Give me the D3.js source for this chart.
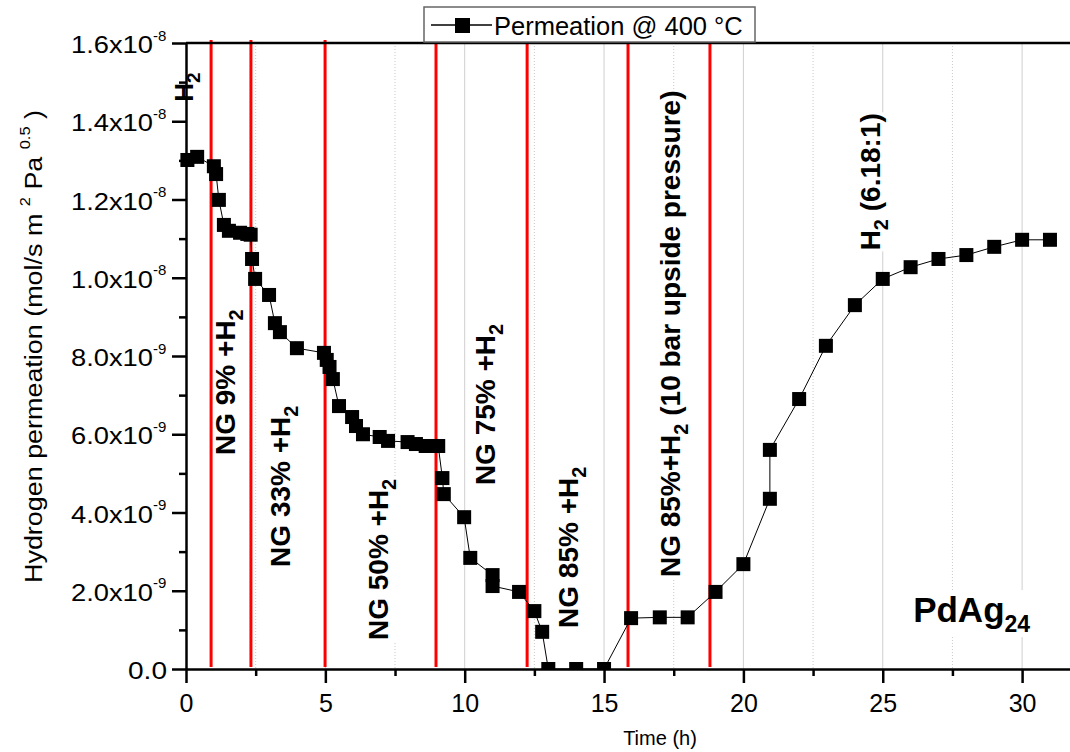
<!DOCTYPE html>
<html>
<head>
<meta charset="utf-8">
<script src="https://cdn.jsdelivr.net/npm/d3@7/dist/d3.min.js"></script>
<style>
  body { margin: 0; background: #fff; }
  svg { display: block; font-family: "Liberation Sans", Arial, sans-serif; }
</style>
</head>
<body>
<div id="chart"></div>
<script>
(function() {
    'use strict';

    // time on stream (h)
    var timeH = [
        0.05, 0.4, 1.0, 1.08, 1.18, 1.36, 1.54, 1.94, 2.2, 2.32,
        2.37, 2.48, 2.98, 3.19, 3.37, 3.98, 4.95, 5.05, 5.15, 5.27,
        5.49, 5.96, 6.1, 6.35, 6.95, 7.25, 7.95, 8.25, 8.6, 9.05,
        9.2, 9.25, 9.98, 10.2, 11.0, 11.0, 11.95, 12.5, 12.78, 13.0,
        14.0, 15.0, 15.97, 17.0, 18.0, 19.0, 20.0, 20.95, 20.95, 22.0,
        22.96, 24.0, 25.0, 26.0, 27.0, 28.0, 29.0, 30.0, 31.0
    ];

    // hydrogen permeation (mol/s m2 Pa0.5)
    var permeation = [
        1.301e-8, 1.309e-8, 1.285e-8, 1.265e-8, 1.199e-8, 1.135e-8, 1.12e-8, 1.115e-8, 1.112e-8, 1.11e-8,
        1.048e-8, 9.97e-9, 9.56e-9, 8.84e-9, 8.61e-9, 8.2e-9, 8.08e-9, 7.9e-9, 7.72e-9, 7.41e-9,
        6.72e-9, 6.44e-9, 6.21e-9, 6.0e-9, 5.93e-9, 5.83e-9, 5.8e-9, 5.75e-9, 5.7e-9, 5.7e-9,
        4.88e-9, 4.47e-9, 3.88e-9, 2.84e-9, 2.4e-9, 2.12e-9, 1.97e-9, 1.48e-9, 0.95e-9, 0,
        0, 0, 1.3e-9, 1.32e-9, 1.32e-9, 1.97e-9, 2.68e-9, 4.35e-9, 5.6e-9, 6.9e-9,
        8.26e-9, 9.3e-9, 9.97e-9, 1.027e-8, 1.048e-8, 1.058e-8, 1.079e-8, 1.097e-8, 1.097e-8
    ];

    // feed gas switch times (red lines)
    var switchTimes = [0.9, 2.33, 4.99, 8.97, 12.24, 15.86, 18.8];

    var xTicks = [0, 5, 10, 15, 20, 25, 30];
    var xMinorTicks = [2.5, 7.5, 12.5, 17.5, 22.5, 27.5];
    var yTicks = [0, 2e-9, 4e-9, 6e-9, 8e-9, 1e-8, 1.2e-8, 1.4e-8, 1.6e-8];
    var yMinorTicks = [1e-9, 3e-9, 5e-9, 7e-9, 9e-9, 1.1e-8, 1.3e-8, 1.5e-8];
    var yTickMantissa = ['0.0', '2.0x10', '4.0x10', '6.0x10', '8.0x10', '1.0x10', '1.2x10', '1.4x10', '1.6x10'];
    var yTickExponent = ['', '-9', '-9', '-9', '-9', '-8', '-8', '-8', '-8'];

    // step annotations (rotated), anchored at the start of the text
    var stepLabels = ['H_{2}', 'NG 9% +H_{2}', 'NG 33% +H_{2}', 'NG 50% +H_{2}', 'NG 75% +H_{2}',
                      'NG 85% +H_{2}', 'NG 85%+H_{2} (10 bar upside pressure)', 'H_{2} (6.18:1)'];
    var stepLabelTime = [0.25, 1.76, 3.73, 7.25, 11.09, 14.07, 17.73, 24.9];
    var stepLabelValue = [1.45e-8, 5.47e-9, 2.61e-9, 0.74e-9, 4.7e-9, 1.05e-9, 2.35e-9, 1.07e-8];

    var legendText = 'Permeation @ 400 \u00b0C';
    var sampleName = 'PdAg_{24}';

    var width = 1070, height = 752;
    var plot = { left: 186, top: 43, bottom: 669 };
    var pxPerHour = 27.87;
    var fontFamily = '"Liberation Sans", Arial, sans-serif';

    var x = d3.scaleLinear()
      .domain([0, 32])
      .range([plot.left, plot.left + 32 * pxPerHour]);

    var y = d3.scaleLinear()
      .domain([0, 1.6e-8])
      .range([plot.bottom, plot.top]);

    var svg = d3.select('#chart')
    .append('svg')
      .attr('width', width)
      .attr('height', height);

    svg.append('defs').append('clipPath')
      .attr('id', 'plotClip')
    .append('rect')
      .attr('x', 0).attr('y', 0)
      .attr('width', width).attr('height', plot.bottom);

    // write text with _{sub} and ^{sup} parts
    function richText(textSel, str, smallSize, shift) {
        var parts = str.split(/([_^]\{[^}]*\})/);
        var pending = 0;
        parts.forEach(function(p) {
            if (!p) { return; }
            if (p[0] === '_' || p[0] === '^') {
                var dy = p[0] === '_' ? shift : -shift;
                textSel.append('tspan')
                  .attr('dy', pending + dy)
                  .attr('font-size', smallSize)
                  .text(p.slice(2, -1));
                pending = -dy;
            } else {
                textSel.append('tspan')
                  .attr('dy', pending)
                  .text(p);
                pending = 0;
            }
        });
    }

    // vertical grid
    svg.append('g')
      .attr('id', 'majorGrid')
    .selectAll('line')
    .data(xTicks.slice(1))
    .enter().append('line')
      .attr('x1', function(d) { return x(d); })
      .attr('x2', function(d) { return x(d); })
      .attr('y1', y(1.6e-8))
      .attr('y2', y(0))
      .attr('stroke', '#cfcfcf')
      .attr('stroke-width', 1);

    svg.append('g')
      .attr('id', 'minorGrid')
    .selectAll('line')
    .data(xMinorTicks)
    .enter().append('line')
      .attr('x1', function(d) { return x(d); })
      .attr('x2', function(d) { return x(d); })
      .attr('y1', y(1.6e-8))
      .attr('y2', y(0))
      .attr('stroke', '#c8c8c8')
      .attr('stroke-width', 1)
      .attr('stroke-dasharray', '1,2');

    // step annotations with white background
    var labels = svg.append('g').attr('id', 'stepLabels');
    stepLabels.forEach(function(str, i) {
        var g = labels.append('g')
          .attr('transform', 'translate(' + x(stepLabelTime[i]) + ',' + y(stepLabelValue[i]) + ') rotate(-90)');
        var bg = g.append('rect').attr('fill', '#fff');
        var t = g.append('text')
          .attr('font-size', i === 0 ? 26 : 28)
          .attr('font-weight', 'bold')
          .attr('fill', '#000');
        richText(t, str, i === 0 ? 19 : 20, i === 0 ? 7 : 8);
        var bb = t.node().getBBox();
        if (i > 0) {
            bg.attr('x', bb.x - 1).attr('y', bb.y)
              .attr('width', bb.width + 2).attr('height', bb.height);
        }
    });

    // sample name
    var sg = svg.append('g')
      .attr('transform', 'translate(' + x(26.09) + ',' + y(1.2e-9) + ')');
    var sbg = sg.append('rect').attr('fill', '#fff');
    var st = sg.append('text')
      .attr('font-size', 35)
      .attr('font-weight', 'bold');
    richText(st, sampleName, 23, 10);
    var sbb = st.node().getBBox();
    sbg.attr('x', sbb.x - 2).attr('y', sbb.y)
      .attr('width', sbb.width + 4).attr('height', sbb.height);

    // red switch lines
    svg.append('g')
      .attr('id', 'switchLines')
    .selectAll('line')
    .data(switchTimes)
    .enter().append('line')
      .attr('x1', function(d) { return x(d); })
      .attr('x2', function(d) { return x(d); })
      .attr('y1', y(1.6e-8) - 3)
      .attr('y2', y(0) - 2)
      .attr('stroke', '#ff0000')
      .attr('stroke-width', 3);

    // data
    var points = timeH.map(function(t, i) { return { x: t, y: permeation[i] }; });

    var lineGen = d3.line()
      .x(function(d) { return x(d.x); })
      .y(function(d) { return y(d.y); });

    var series = svg.append('g')
      .attr('clip-path', 'url(#plotClip)');

    series.append('path')
      .attr('d', lineGen(points))
      .attr('fill', 'none')
      .attr('stroke', '#000')
      .attr('stroke-width', 1);

    var mk = 14;
    series.selectAll('rect')
    .data(points)
    .enter().append('rect')
      .attr('x', function(d) { return x(d.x) - mk / 2; })
      .attr('y', function(d) { return y(d.y) - mk / 2; })
      .attr('width', mk)
      .attr('height', mk)
      .attr('fill', '#000');

    // axes
    var xAxis = d3.axisBottom(x)
      .tickValues(xTicks)
      .tickSize(14)
      .tickSizeOuter(0)
      .tickPadding(11)
      .tickFormat(d3.format('d'));

    var gx = svg.append('g')
      .attr('transform', 'translate(0,' + plot.bottom + ')')
      .call(xAxis);
    gx.select('.domain').attr('stroke-width', 2.5);
    gx.selectAll('.tick line').attr('stroke-width', 2.5);
    gx.selectAll('.tick text')
      .attr('font-size', 25)
      .attr('font-family', fontFamily);

    svg.append('g')
      .attr('transform', 'translate(0,' + plot.bottom + ')')
      .call(d3.axisBottom(x).tickValues(xMinorTicks).tickSize(7).tickFormat(''))
      .call(function(g) { g.select('.domain').remove(); })
      .selectAll('.tick line').attr('stroke-width', 2.5);

    var yAxis = d3.axisLeft(y)
      .tickValues(yTicks)
      .tickSize(14)
      .tickSizeOuter(0)
      .tickFormat('');

    var gy = svg.append('g')
      .attr('transform', 'translate(' + plot.left + ',0)')
      .call(yAxis);
    gy.select('.domain').attr('stroke-width', 2.5);
    gy.selectAll('.tick line').attr('stroke-width', 2.5);
    gy.selectAll('.tick text').remove();

    // tick labels like 1.6x10^-8, glyphs stretched a bit as in the source
    gy.selectAll('.tick').each(function(d, i) {
        var tick = d3.select(this);
        var isZero = !yTickExponent[i];
        tick.append('text')
          .attr('x', isZero ? -58 : -115)
          .attr('y', 9.5)
          .attr('text-anchor', 'start')
          .attr('font-family', fontFamily)
          .attr('font-size', 24)
          .attr('fill', '#000')
          .attr('textLength', isZero ? 39 : 82)
          .attr('lengthAdjust', 'spacingAndGlyphs')
          .text(yTickMantissa[i]);
        if (!isZero) {
            tick.append('text')
              .attr('x', -33)
              .attr('y', -3)
              .attr('text-anchor', 'start')
              .attr('font-family', fontFamily)
              .attr('font-size', 15)
              .attr('fill', '#000')
              .text(yTickExponent[i]);
        }
    });

    svg.append('g')
      .attr('transform', 'translate(' + plot.left + ',0)')
      .call(d3.axisLeft(y).tickValues(yMinorTicks).tickSize(7).tickFormat(''))
      .call(function(g) { g.select('.domain').remove(); })
      .selectAll('.tick line').attr('stroke-width', 2.5);

    // top frame
    svg.append('line')
      .attr('x1', plot.left).attr('x2', width)
      .attr('y1', y(1.6e-8)).attr('y2', y(1.6e-8))
      .attr('stroke', '#000')
      .attr('stroke-width', 2.5);

    // axis titles
    svg.append('text')
      .attr('x', 660)
      .attr('y', 745)
      .attr('text-anchor', 'middle')
      .attr('font-size', 20)
      .text('Time (h)');

    var yt = svg.append('text')
      .attr('transform', 'translate(42,346.5) rotate(-90)')
      .attr('text-anchor', 'middle')
      .attr('font-size', 23)
      .attr('textLength', 473)
      .attr('lengthAdjust', 'spacingAndGlyphs');
    richText(yt, 'Hydrogen permeation (mol/s m ^{2} Pa ^{0.5} )', 14, 12);

    // legend
    var legend = svg.append('g').attr('id', 'legend');
    legend.append('rect')
      .attr('x', 424).attr('y', 7)
      .attr('width', 331).attr('height', 35)
      .attr('fill', '#fff')
      .attr('stroke', '#666')
      .attr('stroke-width', 1.5);
    legend.append('line')
      .attr('x1', 431).attr('x2', 492)
      .attr('y1', 25).attr('y2', 25)
      .attr('stroke', '#000')
      .attr('stroke-width', 1.5);
    legend.append('rect')
      .attr('x', 455).attr('y', 18)
      .attr('width', 15).attr('height', 15)
      .attr('fill', '#000');
    legend.append('text')
      .attr('x', 494).attr('y', 35)
      .attr('font-size', 25.5)
      .text(legendText);
})();
</script>
</body>
</html>
